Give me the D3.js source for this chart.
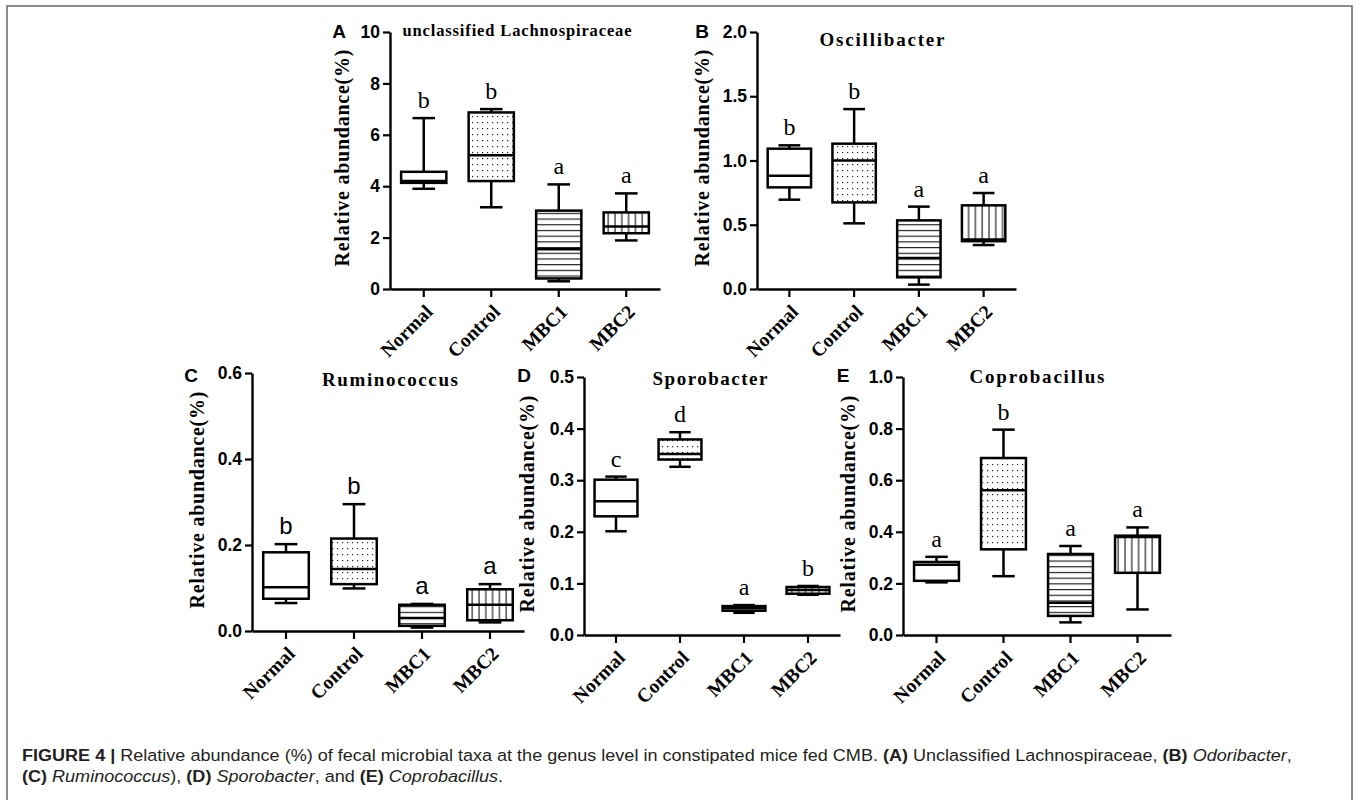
<!DOCTYPE html>
<html>
<head>
<meta charset="utf-8">
<script src="https://cdn.jsdelivr.net/npm/d3@7"></script>
<style>
  html, body { margin: 0; padding: 0; background: #fff; }
  svg { display: block; }
</style>
</head>
<body>
<svg id="chart" width="1357" height="800"></svg>
<script>
// ---------- DATA ----------
const categories = ["Normal", "Control", "MBC1", "MBC2"];
const panelLetters = ["A", "B", "C", "D", "E"];
const panelTitles = ["unclassified Lachnospiraceae", "Oscillibacter", "Ruminococcus", "Sporobacter", "Coprobacillus"];
const yMaxValues = [10, 2.0, 0.6, 0.5, 1.0];
const yTicksA = [0, 2, 4, 6, 8, 10];
const yTicksB = [0, 0.5, 1.0, 1.5, 2.0];
const yTicksC = [0, 0.2, 0.4, 0.6];
const yTicksD = [0, 0.1, 0.2, 0.3, 0.4, 0.5];
const yTicksE = [0, 0.2, 0.4, 0.6, 0.8, 1.0];
// [min, Q1, median, Q3, max] per category
const statsA = [[3.9, 4.13, 4.2, 4.56, 6.65], [3.18, 4.2, 5.2, 6.87, 7.0], [0.3, 0.41, 1.55, 3.05, 4.07], [1.89, 2.17, 2.43, 2.98, 3.72]];
const statsB = [[0.695, 0.791, 0.882, 1.092, 1.118], [0.511, 0.674, 1.0, 1.131, 1.40], [0.034, 0.091, 0.241, 0.534, 0.641], [0.342, 0.372, 0.385, 0.651, 0.747]];
const statsC = [[0.065, 0.075, 0.102, 0.183, 0.202], [0.099, 0.109, 0.144, 0.215, 0.295], [0.008, 0.012, 0.03, 0.061, 0.063], [0.02, 0.025, 0.061, 0.097, 0.109]];
const statsD = [[0.201, 0.230, 0.259, 0.301, 0.307], [0.326, 0.340, 0.351, 0.379, 0.393], [0.043, 0.047, 0.052, 0.056, 0.058], [0.078, 0.080, 0.087, 0.093, 0.095]];
const statsE = [[0.204, 0.210, 0.272, 0.283, 0.303], [0.228, 0.332, 0.561, 0.686, 0.796], [0.049, 0.074, 0.125, 0.314, 0.345], [0.099, 0.241, 0.38, 0.385, 0.417]];
const lettersA = ["b", "b", "a", "a"];
const lettersB = ["b", "b", "a", "a"];
const lettersC = ["b", "b", "a", "a"];
const lettersD = ["c", "d", "a", "b"];
const lettersE = ["a", "b", "a", "a"];

const allStats = [statsA, statsB, statsC, statsD, statsE];
const allTicks = [yTicksA, yTicksB, yTicksC, yTicksD, yTicksE];
const allLetters = [lettersA, lettersB, lettersC, lettersD, lettersE];

// ---------- LAYOUT ----------
const layouts = [
  { x0: 390, x1: 660, yTop: 32, yBot: 289, fmt: d3.format("d"), letterFont: "Liberation Serif",
    titleX: 517, titleY: 36, titleSize: 16.5, titleLen: 229, tagX: 339, tagY: 38, ylabX: 342, ylabY: 158 },
  { x0: 757, x1: 1016, yTop: 32, yBot: 289, fmt: d3.format(".1f"), letterFont: "Liberation Serif",
    titleX: 882, titleY: 46, titleSize: 19, titleLen: 125, tagX: 702, tagY: 38, ylabX: 702, ylabY: 158 },
  { x0: 252, x1: 524, yTop: 373, yBot: 631, fmt: d3.format(".1f"), letterFont: "Liberation Sans",
    titleX: 390, titleY: 386, titleSize: 19, titleLen: 136, tagX: 191, tagY: 382, ylabX: 197, ylabY: 500 },
  { x0: 584, x1: 840, yTop: 377, yBot: 635, fmt: d3.format(".1f"), letterFont: "Liberation Serif",
    titleX: 710, titleY: 385, titleSize: 19, titleLen: 115, tagX: 524, tagY: 382, ylabX: 527, ylabY: 504 },
  { x0: 903, x1: 1171, yTop: 377, yBot: 635, fmt: d3.format(".1f"), letterFont: "Liberation Serif",
    titleX: 1037, titleY: 383, titleSize: 19, titleLen: 135, tagX: 843, tagY: 382, ylabX: 848, ylabY: 504 }
];

const svg = d3.select("#chart");

// border frame
svg.append("rect")
  .attr("x", 7).attr("y", 6).attr("width", 1345).attr("height", 810)
  .attr("fill", "none").attr("stroke", "#6f6f6f").attr("stroke-width", 1.6);

// patterns
const defs = svg.append("defs");
const pDots = defs.append("pattern").attr("id", "pat-dots").attr("patternUnits", "userSpaceOnUse")
  .attr("width", 5).attr("height", 6);
pDots.append("rect").attr("width", 5).attr("height", 6).attr("fill", "#fff");
pDots.append("rect").attr("x", 2).attr("y", 2).attr("width", 1.2).attr("height", 1.2).attr("fill", "#222");
const pH = defs.append("pattern").attr("id", "pat-h").attr("patternUnits", "userSpaceOnUse")
  .attr("width", 6).attr("height", 5.7);
pH.append("rect").attr("width", 6).attr("height", 5.7).attr("fill", "#fff");
pH.append("line").attr("x1", 0).attr("x2", 6).attr("y1", 2.5).attr("y2", 2.5).attr("stroke", "#111").attr("stroke-width", 1.1);
const pV = defs.append("pattern").attr("id", "pat-v").attr("patternUnits", "userSpaceOnUse")
  .attr("width", 6.8).attr("height", 6);
pV.append("rect").attr("width", 6.8).attr("height", 6).attr("fill", "#fff");
pV.append("line").attr("y1", 0).attr("y2", 6).attr("x1", 3).attr("x2", 3).attr("stroke", "#111").attr("stroke-width", 1.1);
const fills = ["#fff", "url(#pat-dots)", "url(#pat-h)", "url(#pat-v)"];

layouts.forEach((L, i) => {
  const g = svg.append("g");
  const x = d3.scaleBand().domain(categories).range([L.x0, L.x1]).padding(0);
  const y = d3.scaleLinear().domain([0, yMaxValues[i]]).range([L.yBot, L.yTop]);
  const bw = x.bandwidth() * 0.67;

  // y axis
  const ya = g.append("g").attr("transform", `translate(${L.x0},0)`)
    .call(d3.axisLeft(y).tickValues(allTicks[i]).tickSize(7).tickSizeOuter(0).tickPadding(3).tickFormat(L.fmt));
  ya.select(".domain").attr("stroke", "#000").attr("stroke-width", 2.4);
  ya.selectAll(".tick line").attr("stroke", "#000").attr("stroke-width", 2.2);
  ya.selectAll(".tick text").attr("font-family", "Liberation Sans, Arial, sans-serif")
    .attr("font-weight", "bold").attr("font-size", 17.5).attr("fill", "#000");

  // x axis
  const xa = g.append("g").attr("transform", `translate(0,${L.yBot})`)
    .call(d3.axisBottom(x).tickSize(8).tickSizeOuter(0).tickFormat(""));
  xa.select(".domain").attr("stroke", "#000").attr("stroke-width", 2.4);
  xa.selectAll(".tick line").attr("stroke", "#000").attr("stroke-width", 2.2);

  // x labels rotated
  g.selectAll(".xl").data(categories).enter().append("text")
    .attr("transform", d => `translate(${x(d) + x.bandwidth() / 2 + 10},${L.yBot + 24}) rotate(-45)`)
    .attr("text-anchor", "end")
    .attr("font-family", "Liberation Serif, Times New Roman, serif")
    .attr("font-weight", "bold").attr("font-size", 19.5).attr("fill", "#000")
    .text(d => d);

  // boxes
  const data = allStats[i].map((s, k) => ({ cat: categories[k], s: s, k: k, letter: allLetters[i][k] }));
  const bx = g.selectAll(".box").data(data).enter().append("g");
  const cx = d => x(d.cat) + x.bandwidth() / 2;
  const sw = 2.5;
  // whiskers
  bx.append("line").attr("x1", cx).attr("x2", cx).attr("y1", d => y(d.s[3])).attr("y2", d => y(d.s[4]))
    .attr("stroke", "#000").attr("stroke-width", sw);
  bx.append("line").attr("x1", cx).attr("x2", cx).attr("y1", d => y(d.s[1])).attr("y2", d => y(d.s[0]))
    .attr("stroke", "#000").attr("stroke-width", sw);
  bx.append("line").attr("x1", d => cx(d) - bw / 4).attr("x2", d => cx(d) + bw / 4)
    .attr("y1", d => y(d.s[4])).attr("y2", d => y(d.s[4])).attr("stroke", "#000").attr("stroke-width", sw);
  bx.append("line").attr("x1", d => cx(d) - bw / 4).attr("x2", d => cx(d) + bw / 4)
    .attr("y1", d => y(d.s[0])).attr("y2", d => y(d.s[0])).attr("stroke", "#000").attr("stroke-width", sw);
  // box
  bx.append("rect").attr("x", d => cx(d) - bw / 2).attr("width", bw)
    .attr("y", d => y(d.s[3])).attr("height", d => y(d.s[1]) - y(d.s[3]))
    .attr("fill", d => fills[d.k]).attr("stroke", "#000").attr("stroke-width", sw);
  // median
  bx.append("line").attr("x1", d => cx(d) - bw / 2).attr("x2", d => cx(d) + bw / 2)
    .attr("y1", d => y(d.s[2])).attr("y2", d => y(d.s[2])).attr("stroke", "#000").attr("stroke-width", sw);
  // significance letters
  bx.append("text").attr("x", cx).attr("y", d => y(d.s[4]) - 10)
    .attr("text-anchor", "middle")
    .attr("font-family", L.letterFont + ", serif").attr("font-size", 24).attr("fill", "#000")
    .text(d => d.letter);

  // title
  g.append("text").attr("x", L.titleX).attr("y", L.titleY).attr("text-anchor", "middle")
    .attr("font-family", "Liberation Serif, Times New Roman, serif").attr("font-weight", "bold")
    .attr("font-size", L.titleSize).attr("textLength", L.titleLen).attr("lengthAdjust", "spacing")
    .attr("fill", "#000").text(panelTitles[i]);
  // panel tag
  g.append("text").attr("x", L.tagX).attr("y", L.tagY).attr("text-anchor", "middle")
    .attr("font-family", "Liberation Sans, Arial, sans-serif").attr("font-weight", "bold")
    .attr("font-size", 19).attr("fill", "#000").text(panelLetters[i]);
  // y label
  g.append("text").attr("transform", `translate(${L.ylabX},${L.ylabY}) rotate(-90)`)
    .attr("text-anchor", "middle").attr("dominant-baseline", "central")
    .attr("font-family", "Liberation Serif, Times New Roman, serif").attr("font-weight", "bold")
    .attr("font-size", 20).attr("textLength", 217).attr("lengthAdjust", "spacing")
    .attr("fill", "#000").text("Relative abundance(%)");
});

// ---------- CAPTION ----------
const captionLine1 = [
  ["FIGURE 4 | ", "bold", "normal"],
  ["Relative abundance (%) of fecal microbial taxa at the genus level in constipated mice fed CMB. ", "normal", "normal"],
  ["(A)", "bold", "normal"], [" Unclassified Lachnospiraceae, ", "normal", "normal"],
  ["(B)", "bold", "normal"], [" ", "normal", "normal"], ["Odoribacter", "normal", "italic"], [",", "normal", "normal"]
];
const captionLine2 = [
  ["(C)", "bold", "normal"], [" ", "normal", "normal"], ["Ruminococcus", "normal", "italic"], ["), ", "normal", "normal"],
  ["(D)", "bold", "normal"], [" ", "normal", "normal"], ["Sporobacter", "normal", "italic"], [", and ", "normal", "normal"],
  ["(E)", "bold", "normal"], [" ", "normal", "normal"], ["Coprobacillus", "normal", "italic"], [".", "normal", "normal"]
];
function captionText(parts) {
  const t = svg.append("text").attr("x", 0).attr("y", 0)
    .attr("font-family", "Liberation Sans Narrow, Liberation Sans, Arial, sans-serif").attr("font-size", 17).attr("fill", "#231f20")
    .attr("xml:space", "preserve").style("white-space", "pre");
  parts.forEach(p => t.append("tspan").attr("font-weight", p[1]).attr("font-style", p[2]).text(p[0]));
  return t;
}
const c1 = captionText(captionLine1);
const c2 = captionText(captionLine2);
const w1 = c1.node().getComputedTextLength();
const sx = (1293 - 22) / w1;
c1.attr("transform", `translate(22,761) scale(${sx},1)`);
c2.attr("transform", `translate(22,782) scale(${sx},1)`);
</script>
</body>
</html>
